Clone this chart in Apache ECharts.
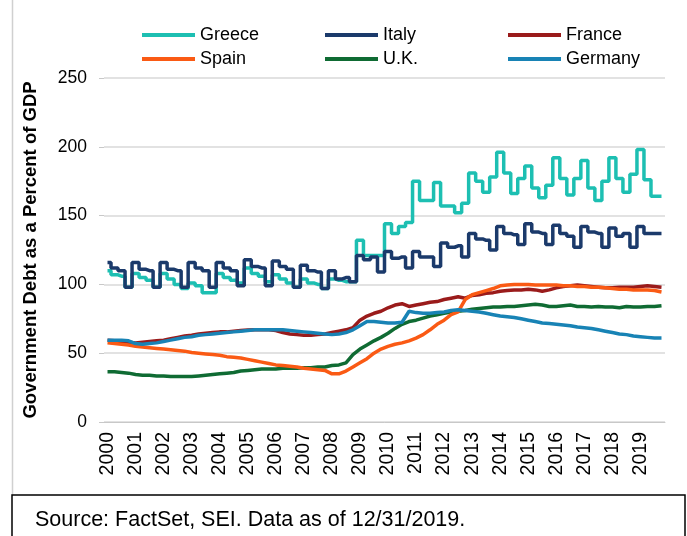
<!DOCTYPE html>
<html>
<head>
<meta charset="utf-8">
<script src="https://cdn.jsdelivr.net/npm/echarts@6/dist/echarts.min.js"></script>
<style>
  html, body { margin: 0; padding: 0; background: #fff; }
  #chart { width: 687px; height: 536px; }
</style>
</head>
<body>
<div id="chart"></div>
<script>
// tick labels and quarters
var years = ["2000", "2001", "2002", "2003", "2004", "2005", "2006", "2007", "2008", "2009",
  "2010", "2011", "2012", "2013", "2014", "2015", "2016", "2017", "2018", "2019"];
var quarters = ["Q1", "Q2", "Q3", "Q4"];
var yTicks = [0, 50, 100, 150, 200, 250];

// quarterly debt / GDP (%), one row per year
var greece = [
  110, 107, 106, 98,
  108, 105, 103, 98,
  108, 104, 100, 97,
  101, 99, 94, 94,
  108, 105, 103, 101,
  112, 108, 106, 102,
  107, 104, 101, 98,
  104, 101, 100, 97,
  104, 103, 102, 102,
  132, 121, 121, 121,
  144, 137, 142, 145,
  175, 161, 161, 174,
  157, 157, 152, 159,
  181, 175, 167, 178,
  196, 181, 166, 177,
  186, 170, 163, 172,
  192, 177, 165, 177,
  190, 170, 161, 175,
  192, 177, 167, 180,
  198, 176, 164, 164
];
var italy = [
  116, 112, 110, 98,
  116, 111, 110, 98,
  116, 111, 110, 98,
  116, 112, 110, 98,
  116, 112, 110, 99,
  118, 113, 112, 99,
  117, 113, 111, 98,
  114, 110, 109, 97,
  110, 104, 105, 102,
  121, 118, 120, 109,
  124, 119, 120, 112,
  124, 120, 120, 113,
  130, 127, 128, 120,
  137, 133, 132, 125,
  142, 137, 136, 129,
  144, 138, 137, 129,
  143, 137, 135, 127,
  142, 138, 137, 127,
  141, 135, 137, 127,
  142, 137, 137, 137
];
var france = [
  59.5, 59, 58.5, 58,
  57.5, 58, 58.5, 59,
  59.5, 60.5, 61.5, 62.5,
  63, 64, 64.5, 65,
  65.5, 65.5, 66, 66.5,
  66.8, 67, 67, 67,
  66.5, 65, 64, 63.5,
  63, 63, 63.5, 64,
  65, 66, 67, 68.5,
  74, 77, 79, 80.5,
  83, 85, 86, 84,
  85, 86, 87, 87.5,
  89, 90, 91, 90,
  92, 92.5, 93.5, 94,
  95, 95.5, 96, 96,
  96.5, 96, 95, 96,
  97.5, 98.5, 99, 99.5,
  99, 98.5, 98, 97.5,
  97.5, 98, 98, 98,
  98.5, 99, 98.5, 98
];
var spain = [
  57.5, 57, 56.5, 56,
  55, 54.5, 54, 53.5,
  53, 52.5, 52, 51.5,
  50.5, 50, 49.5, 49,
  48.5, 47.5, 47, 46.5,
  45.5, 44.5, 43.5, 42.5,
  41.5, 41, 40.5, 40,
  39, 38.5, 38, 37.5,
  35, 35, 37, 40,
  43, 46, 50, 53,
  55, 56.5, 57.5, 59,
  61, 63.5, 67, 71,
  74, 78, 80, 89,
  92.5, 94, 95.5, 97,
  99, 99.5, 100, 100,
  100, 99.5, 99.5, 99.5,
  99.5, 99, 99, 98.5,
  98.5, 98, 98, 97.5,
  97, 96.5, 96.5, 96,
  96, 96, 95.5, 94.5
];
var uk = [
  36.5, 36.5, 36, 35.5,
  34.5, 34, 34, 33.5,
  33.5, 33, 33, 33,
  33, 33.5, 34, 34.5,
  35, 35.5, 36, 37,
  37.5, 38, 38.5, 38.5,
  38.5, 39, 39, 39,
  39.5, 39.5, 40, 40,
  41, 41.5, 43, 49,
  53, 56, 59, 61.5,
  64.5, 68, 71, 73,
  74, 75.5, 77, 78,
  79, 80, 80.5, 81,
  82, 82.5, 83, 83.5,
  83.5, 84, 84, 84.5,
  85, 85.5, 85, 84,
  84, 84.5, 85, 84,
  84, 83.5, 84, 83.5,
  83.5, 83, 84, 83.5,
  83.5, 84, 84, 84.5
];
var germany = [
  59.5, 59.5, 59.5, 59,
  57, 56.5, 57, 57.5,
  58.5, 59.5, 60.5, 61.5,
  62, 63, 63.5, 64,
  64.5, 65, 65.5, 66,
  66.5, 67, 67, 67,
  67, 67, 66.5, 66,
  65.5, 65, 64.5, 64,
  63.5, 64, 65, 67,
  70, 73, 73, 72.5,
  72, 72, 72.5, 80.5,
  79.5, 79, 79, 79.5,
  80, 81, 81.5, 81,
  80.5, 80, 79, 78,
  77, 76.5, 76, 75,
  74, 73, 72, 71.5,
  71, 70.5, 70, 69,
  68.5, 68, 67, 66,
  65, 64, 63.5, 62.5,
  62, 61.5, 61, 61
];

var categories = [];
years.forEach(function (y) {
  quarters.forEach(function (q) { categories.push(y + " " + q); });
});

var FONT = "Liberation Sans";

function line(name, data, color, step) {
  return {
    name: name,
    type: "line",
    data: data,
    color: color,
    step: step || false,
    symbol: "none",
    lineStyle: { width: 3.5, color: color },
  };
}

// one legend per entry so the three columns line up
function legendItem(name, left, top) {
  return {
    data: [name],
    left: left, top: top, padding: 0,
    icon: "rect", itemWidth: 53, itemHeight: 4, itemGap: 5,
    textStyle: { fontFamily: FONT, fontSize: 18, color: "#000" },
  };
}

var chart = echarts.init(document.getElementById("chart"));
chart.setOption({
  animation: false,
  backgroundColor: "#fff",
  textStyle: { fontFamily: FONT },
  grid: { left: 104, right: 22, top: 78, bottom: 114 },
  legend: [
    legendItem("Greece", 142, 26),
    legendItem("Italy", 325, 26),
    legendItem("France", 508, 26),
    legendItem("Spain", 142, 50),
    legendItem("U.K.", 325, 50),
    legendItem("Germany", 508, 50),
  ],
  xAxis: {
    type: "category",
    data: categories,
    boundaryGap: true,
    axisLine: { lineStyle: { color: "#c8c8c8", width: 1 } },
    axisTick: { interval: 3, length: 5, lineStyle: { color: "#c8c8c8" } },
    axisLabel: {
      interval: 3, rotate: 90, margin: 10,
      fontFamily: FONT, fontSize: 19.5, color: "#000",
      formatter: function (v) { return v.slice(0, 4); },
    },
    splitLine: { show: false },
  },
  yAxis: {
    type: "value",
    min: yTicks[0], max: yTicks[yTicks.length - 1], interval: 50,
    name: "Government Debt as a Percent of GDP",
    nameLocation: "middle", nameRotate: 90, nameGap: 64,
    nameTextStyle: { fontFamily: FONT, fontSize: 18.5, fontWeight: "bold", color: "#000" },
    axisLine: { show: false },
    axisTick: { show: true, length: 5, lineStyle: { color: "#c8c8c8" } },
    axisLabel: { margin: 17, fontFamily: FONT, fontSize: 17.5, color: "#000" },
    splitLine: { lineStyle: { color: "#d9d9d9", width: 1.5 } },
  },
  series: [
    line("Greece", greece, "#1dbfb2", "middle"),
    line("France", france, "#9a1b1b"),
    line("U.K.", uk, "#0f6b33"),
    line("Spain", spain, "#fa5a14"),
    line("Germany", germany, "#1883b5"),
    line("Italy", italy, "#1b3a6b", "middle"),
  ],
  graphic: [
    {
      type: "line",
      shape: { x1: 12.5, y1: 0, x2: 12.5, y2: 495 },
      style: { stroke: "#d0d0d0", lineWidth: 1.5 },
    },
    {
      type: "rect",
      shape: { x: 12, y: 495, width: 673, height: 50 },
      style: { fill: "none", stroke: "#000", lineWidth: 1.5 },
    },
    {
      type: "text",
      left: 35, top: 509,
      style: {
        text: "Source: FactSet, SEI. Data as of 12/31/2019.",
        fontFamily: FONT, fontSize: 21.5, fill: "#000",
      },
    },
  ],
});
</script>
</body>
</html>
